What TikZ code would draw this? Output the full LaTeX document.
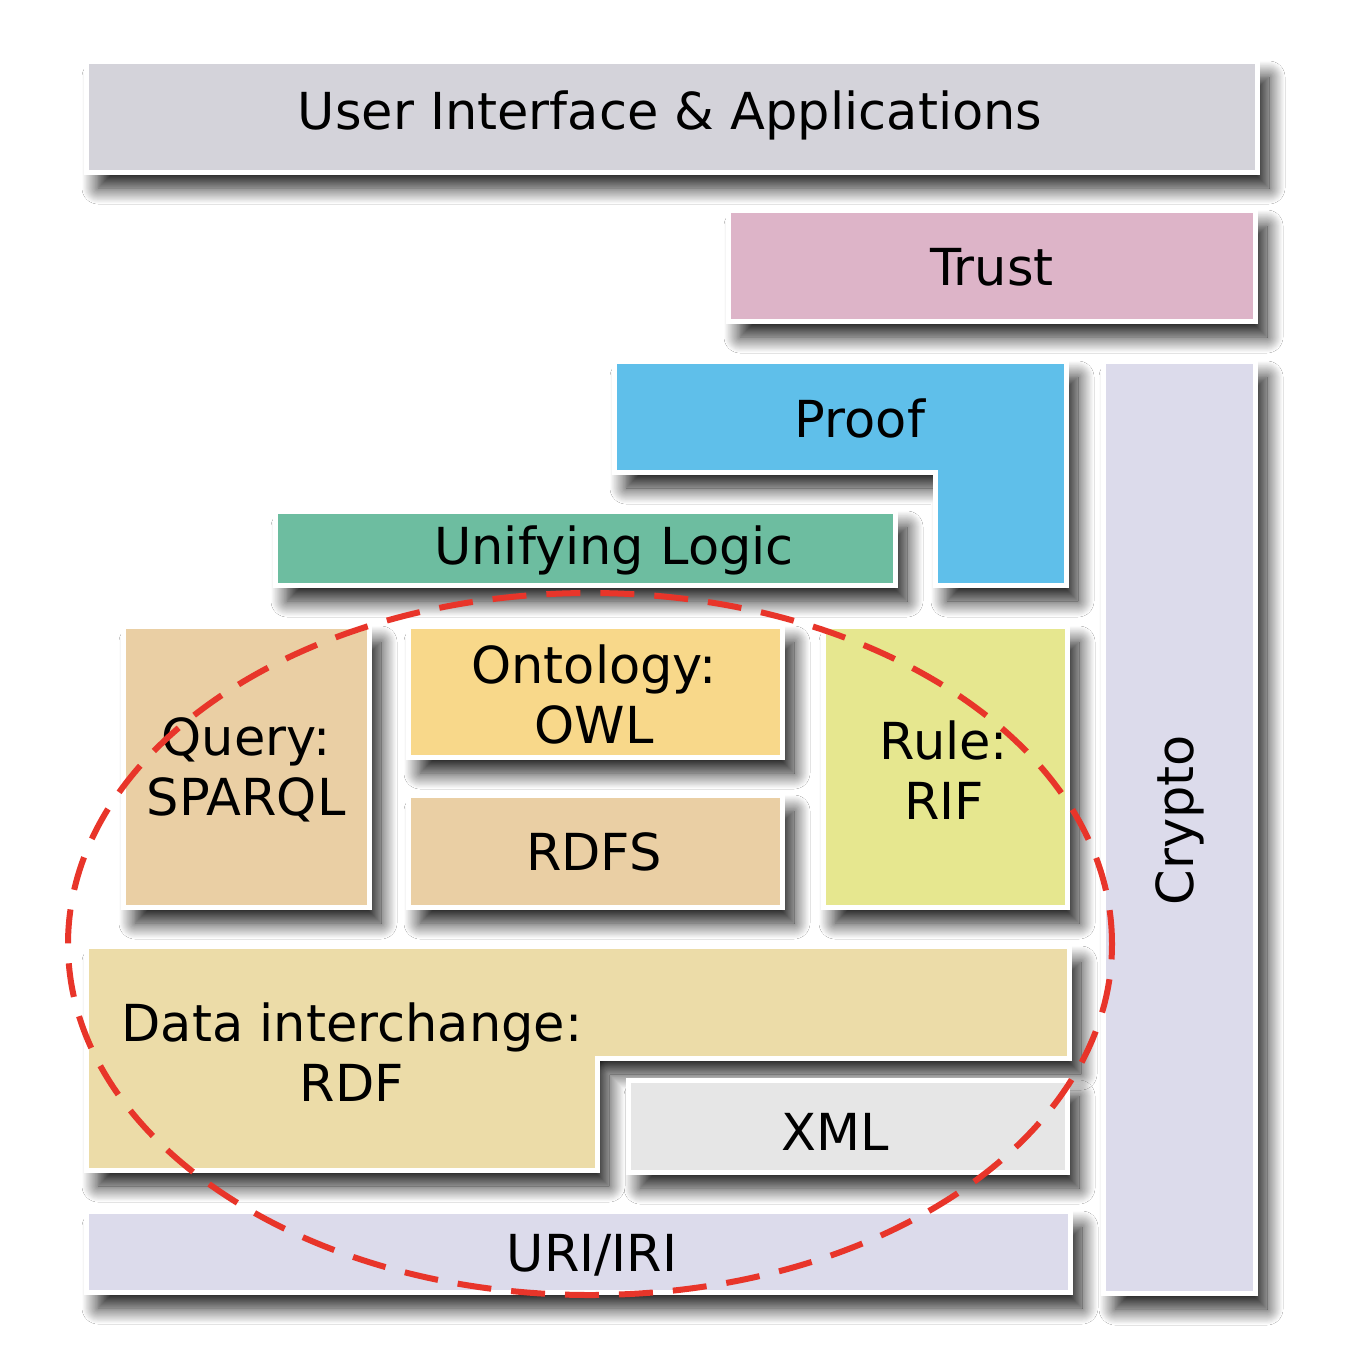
\documentclass[tikz,border=0pt]{standalone}
\usepackage{fontspec}
\setmainfont{DejaVu Sans}
\usepackage{xcolor}
\usetikzlibrary{shadows.blur}
\definecolor{uigray}{HTML}{D4D3DA}
\definecolor{trustpink}{HTML}{DDB4C8}
\definecolor{proofblue}{HTML}{5FBFEA}
\definecolor{logicgreen}{HTML}{6DBDA0}
\definecolor{tan}{HTML}{EACFA4}
\definecolor{owlyellow}{HTML}{F8D88A}
\definecolor{rulelime}{HTML}{E6E78F}
\definecolor{rdfsand}{HTML}{ECDCA8}
\definecolor{xmlgray}{HTML}{E6E6E6}
\definecolor{lavender}{HTML}{DCDBEB}
\definecolor{ringred}{HTML}{E8352A}
\begin{document}
\begin{tikzpicture}[x=0.5pt,y=-0.5pt,
  lay/.style={draw=white,line width=2.5pt,
    blur shadow={shadow xshift=6pt,shadow yshift=-8pt,shadow blur radius=8pt,
                 shadow blur steps=20,shadow opacity=90}},
  lbl/.style={font=\fontsize{25.5}{30}\selectfont,text=black,align=center,inner sep=0pt},
  ring/.style={draw=ringred,line width=3pt,dash pattern=on 17pt off 10pt}]
\useasboundingbox[fill=white](0,0) rectangle (1354,1350);
% top layers
\path[lay,fill=uigray](86,61) rectangle (1257,172);
\node[lbl](ui) at (670,115){User Interface \& Applications};
\path[lay,fill=trustpink](728,210) rectangle (1255,321);
\node[lbl](trust) at (992,267){Trust};
\path[lay,fill=lavender](1103,361) rectangle (1255,1293);
\node[lbl,rotate=90](crypto) at (1180,820){Crypto};
\path[lay,fill=proofblue](614,361) -- (1066,361) -- (1066,585) -- (935,585)
  -- (935,472) -- (614,472) -- cycle;
\node[lbl](proof) at (860,418){Proof};
\path[lay,fill=logicgreen](275,511) rectangle (895,585);
\node[lbl](logic) at (614,550){Unifying Logic};
% middle layers
\path[lay,fill=tan](123,626) rectangle (369,907);
\node[lbl](query) at (246,770){Query:\\SPARQL};
\path[lay,fill=owlyellow](408,626) rectangle (782,757);
\node[lbl](owl) at (594,694){Ontology:\\OWL};
\path[lay,fill=tan](408,795) rectangle (782,907);
\node[lbl](rdfs) at (594,852){RDFS};
\path[lay,fill=rulelime](823,626) rectangle (1067,907);
\node[lbl](rule) at (944,770){Rule:\\RIF};
% bottom layers
\path[lay,fill=rdfsand](86,946) -- (1069,946) -- (1069,1058) -- (597,1058)
  -- (597,1170) -- (86,1170) -- cycle;
\node[lbl](rdf) at (352,1052){Data interchange:\\RDF};
\path[lay,fill=xmlgray](628,1080) rectangle (1067,1172);
\node[lbl](xml) at (835,1132){XML};
\path[lay,fill=lavender](86,1211) rectangle (1070,1292);
\node[lbl](uri) at (592,1255){URI/IRI};
% dashed ring
\draw[ring](590,944) ellipse [x radius=261pt,y radius=175.5pt];
\end{tikzpicture}
\end{document}
